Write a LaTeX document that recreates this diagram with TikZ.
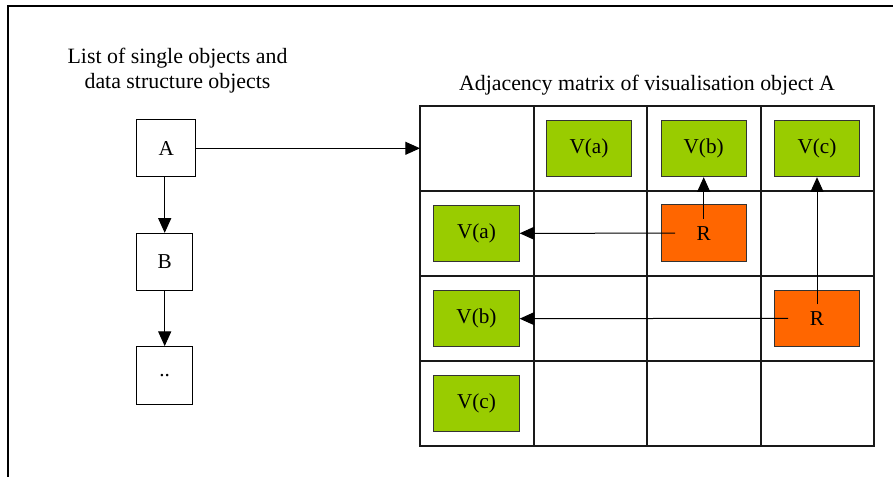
\documentclass[tikz,border=0pt]{standalone}
\usepackage{fontspec}
\setmainfont{Liberation Serif}
\usetikzlibrary{arrows.meta,calc}
\definecolor{vgreen}{HTML}{99CC00}
\definecolor{rorange}{HTML}{FF6600}
\definecolor{edge}{HTML}{333333}
\begin{document}
\begin{tikzpicture}[x=0.75pt,y=-0.75pt,
  lbl/.style={font=\fontsize{15.9}{18}\selectfont},
  listbox/.style={draw=black, line width=0.75pt, fill=white, minimum height=42.5pt, lbl, inner sep=0pt},
  vbox/.style={draw=edge, line width=0.75pt, fill=vgreen, minimum width=64pt, minimum height=42.3pt, lbl, inner sep=0pt},
  rbox/.style={draw=edge, line width=0.75pt, fill=rorange, minimum width=64pt, minimum height=42.3pt, lbl, inner sep=0pt},
  title/.style={font=\fontsize{16.4}{18.75}\selectfont, align=center, inner sep=0pt},
  conn/.style={line width=0.75pt, -{Triangle[length=11pt,width=9.75pt]}},
  gridline/.style={line width=0.8pt, draw=black!90}
]
\useasboundingbox (0,0) rectangle (893,477);
% frame
\draw[line width=1.5pt] (8.3,477) -- (8.3,5.7) -- (893,5.7);

% titles
\node[title] (t1) at (177.5,71) {List of single objects and\\data structure objects};
\node[title, anchor=base] (t2) at (647,91) {Adjacency matrix of visualisation object A};

% list
\node[listbox, minimum width=44.5pt] (A) at (166.3,148.3) {A};
\node[listbox, minimum width=42pt] (B) at (164.7,261.7) {B};
\node[listbox, minimum width=42pt, minimum height=43.3pt] (D) at (164.7,375.5) {..};
\draw[conn] (A.south -| B.north) -- (B.north);
\draw[conn] (B.south) -- (D.north);

% grid
\draw[gridline] (420,106) rectangle (874,446);
\foreach \x in {534,647,761} \draw[gridline] (\x,106) -- (\x,446);
\foreach \y in {191,276,361} \draw[gridline] (420,\y) -- (874,\y);
\coordinate (gridW) at (420,148.3);
\draw[conn] (A.east) -- (gridW);

% matrix nodes
\node[vbox] (Va1) at (589,148.3) {V(a)};
\node[vbox] (Vb1) at (703.7,148.5) {V(b)};
\node[vbox] (Vc1) at (817,148.5) {V(c)};
\node[vbox] (Va2) at (476.5,233.3) {V(a)};
\node[vbox] (Vb2) at (476.5,318.7) {V(b)};
\node[vbox] (Vc2) at (476.5,403.7) {V(c)};
\node[rbox] (R1) at (703.7,233.2) {R};
\node[rbox] (R2) at (817,318.3) {R};

\coordinate (R1h) at ($(R1.center)+(-28.7,0)$);
\coordinate (R1v) at ($(R1.center)+(0,-14)$);
\coordinate (R2h) at ($(R2.center)+(-29,0)$);
\coordinate (R2v) at ($(R2.center)+(0,-14)$);
\draw[conn] (R1h) -- (Va2.east);
\draw[conn] (R1v) -- (Vb1.south);
\draw[conn] (R2h) -- (Vb2.east);
\draw[conn] (R2v) -- (Vc1.south);
\end{tikzpicture}
\end{document}
